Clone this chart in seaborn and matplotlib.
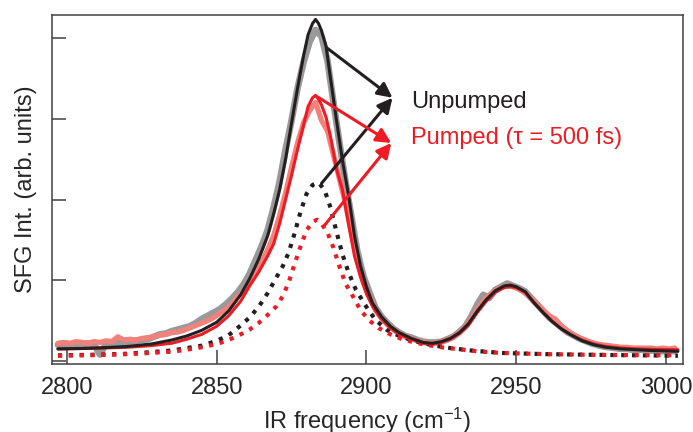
import numpy as np
import pandas as pd
import matplotlib
matplotlib.use("Agg")
import matplotlib.pyplot as plt
import seaborn as sns

# Datos (frecuencia IR en cm^-1, intensidad SFG en u.a.)
freq_datos = np.arange(2797, 3004, 2)

sfg_sin_bomba = [
    0.20, 0.21, 0.20, 0.21, 0.20, 0.22, 0.21, 0.08, 0.21, 0.22,
    0.23, 0.22, 0.24, 0.25, 0.26, 0.27, 0.30, 0.33, 0.34, 0.37,
    0.39, 0.41, 0.43, 0.47, 0.52, 0.56, 0.60, 0.64, 0.70, 0.77,
    0.85, 0.95, 1.08, 1.25, 1.42, 1.62, 1.90, 2.22, 2.62, 2.98,
    3.38, 3.70, 3.95, 4.10, 4.02, 3.72, 3.20, 2.70, 2.22, 1.78,
    1.35, 1.05, 0.85, 0.66, 0.55, 0.47, 0.40, 0.35, 0.31, 0.29,
    0.26, 0.24, 0.23, 0.23, 0.24, 0.27, 0.30, 0.36, 0.43, 0.55,
    0.70, 0.82, 0.78, 0.88, 0.92, 0.96, 0.93, 0.90, 0.86, 0.78,
    0.70, 0.62, 0.54, 0.48, 0.42, 0.36, 0.32, 0.28, 0.25, 0.22,
    0.20, 0.18, 0.17, 0.16, 0.15, 0.15, 0.14, 0.14, 0.14, 0.13,
    0.13, 0.12, 0.13, 0.12,
]

sfg_con_bomba = [
    0.22, 0.23, 0.22, 0.24, 0.23, 0.22, 0.24, 0.23, 0.25, 0.24,
    0.30, 0.26, 0.27, 0.26, 0.28, 0.29, 0.30, 0.32, 0.33, 0.35,
    0.36, 0.38, 0.41, 0.44, 0.47, 0.50, 0.54, 0.59, 0.64, 0.70,
    0.80, 0.86, 0.98, 1.10, 1.22, 1.38, 1.55, 1.80, 2.08, 2.40,
    2.70, 2.95, 3.10, 3.20, 2.98, 2.85, 2.55, 2.25, 1.95, 1.58,
    1.25, 0.98, 0.80, 0.63, 0.53, 0.45, 0.39, 0.34, 0.30, 0.28,
    0.25, 0.23, 0.22, 0.22, 0.24, 0.26, 0.30, 0.35, 0.42, 0.52,
    0.64, 0.74, 0.82, 0.87, 0.91, 0.93, 0.92, 0.89, 0.84, 0.78,
    0.70, 0.63, 0.56, 0.52, 0.44, 0.38, 0.33, 0.29, 0.26, 0.23,
    0.21, 0.20, 0.19, 0.18, 0.17, 0.17, 0.16, 0.16, 0.16, 0.16,
    0.15, 0.16, 0.15, 0.16,
]

# Ajustes (lineas continuas)
freq_ajuste = [
    2797, 2805, 2812, 2820, 2828, 2835, 2840, 2845, 2850, 2854,
    2858, 2861, 2864, 2867, 2869, 2871, 2873, 2875, 2877, 2879,
    2880.5, 2882, 2883, 2884, 2885, 2886.5, 2888, 2890, 2892, 2894,
    2896, 2898, 2900, 2902, 2905, 2908, 2911, 2915, 2919, 2922,
    2925, 2928, 2931, 2934, 2937, 2940, 2943, 2946, 2948, 2950,
    2953, 2956, 2959, 2962, 2965, 2968, 2972, 2976, 2980, 2985,
    2990, 2995, 3004,
]
ajuste_sin_bomba = [
    0.15, 0.155, 0.165, 0.18, 0.21, 0.26, 0.31, 0.38, 0.48, 0.62,
    0.82, 1.02, 1.26, 1.55, 1.82, 2.12, 2.50, 2.95, 3.38, 3.78,
    4.04, 4.18, 4.23, 4.18, 4.09, 3.90, 3.50, 2.98, 2.48, 2.06,
    1.55, 1.18, 0.92, 0.72, 0.55, 0.43, 0.35, 0.28, 0.23, 0.22,
    0.24, 0.28, 0.35, 0.46, 0.62, 0.76, 0.87, 0.93, 0.94, 0.92,
    0.86, 0.72, 0.60, 0.49, 0.40, 0.33, 0.25, 0.20, 0.17, 0.15,
    0.14, 0.13, 0.12,
]
ajuste_con_bomba = [
    0.15, 0.155, 0.16, 0.17, 0.19, 0.22, 0.27, 0.33, 0.43, 0.56,
    0.74, 0.93, 1.10, 1.30, 1.45, 1.70, 2.00, 2.30, 2.62, 2.92,
    3.15, 3.26, 3.29, 3.24, 3.17, 3.02, 2.78, 2.38, 2.12, 1.70,
    1.30, 1.04, 0.83, 0.68, 0.52, 0.41, 0.33, 0.27, 0.22, 0.21,
    0.23, 0.27, 0.34, 0.44, 0.60, 0.74, 0.85, 0.91, 0.92, 0.91,
    0.85, 0.72, 0.60, 0.49, 0.40, 0.33, 0.26, 0.21, 0.18, 0.16,
    0.15, 0.145, 0.14,
]

# Componente principal (lineas punteadas)
freq_comp_negro = [
    2797, 2805, 2812, 2820, 2828, 2835, 2840, 2845, 2850, 2854,
    2858, 2861, 2864, 2867, 2870, 2872, 2874, 2876, 2878, 2880,
    2882, 2884, 2886, 2888, 2890, 2892, 2894, 2896.5, 2900, 2903,
    2907, 2911, 2915, 2919, 2923, 2928, 2935, 2945, 2960, 2980,
    3004,
]
comp_sin_bomba = [
    0.07, 0.075, 0.08, 0.09, 0.11, 0.13, 0.16, 0.19, 0.25, 0.32,
    0.44, 0.54, 0.67, 0.84, 1.04, 1.17, 1.34, 1.58, 1.85, 2.07,
    2.18, 2.21, 2.12, 1.90, 1.60, 1.32, 1.10, 0.88, 0.67, 0.51,
    0.38, 0.31, 0.26, 0.22, 0.19, 0.16, 0.13, 0.10, 0.085, 0.075,
    0.065,
]
freq_comp_rojo = [
    2797, 2805, 2812, 2820, 2828, 2835, 2840, 2845, 2850, 2854,
    2858, 2861, 2864, 2867, 2870, 2872, 2874, 2876, 2878, 2880,
    2882, 2883.5, 2885, 2887, 2889, 2891, 2893, 2895.5, 2898, 2901,
    2904, 2908, 2912, 2916, 2920, 2925, 2930, 2937, 2945, 2960,
    2980, 3004,
]
comp_con_bomba = [
    0.065, 0.07, 0.075, 0.085, 0.10, 0.115, 0.14, 0.17, 0.21, 0.26,
    0.33, 0.39, 0.47, 0.57, 0.68, 0.80, 0.97, 1.20, 1.42, 1.62,
    1.72, 1.75, 1.70, 1.59, 1.40, 1.17, 0.96, 0.80, 0.63, 0.50,
    0.41, 0.33, 0.27, 0.23, 0.20, 0.17, 0.15, 0.12, 0.10, 0.085,
    0.075, 0.07,
]

NEGRO = "#231f20"
ROJO = "#ed1c24"
GRIS = "#999999"
ROJO_CLARO = "#f3817b"
EJES = "#404040"

sns.set_style("ticks")
plt.rcParams["font.family"] = ["Liberation Sans", "DejaVu Sans"]
plt.rcParams["mathtext.fontset"] = "custom"
plt.rcParams["mathtext.rm"] = "Liberation Sans"
plt.rcParams["mathtext.it"] = "Liberation Sans:italic"

fig = plt.figure(figsize=(6.93, 4.32), dpi=100)
ax = fig.add_axes([0.075, 0.1574, 0.9106, 0.8079])

df_datos = pd.DataFrame({"freq": freq_datos, "sin": sfg_sin_bomba, "con": sfg_con_bomba})
sns.lineplot(data=df_datos, x="freq", y="sin", ax=ax, color=GRIS, lw=4.8,
             sort=False, estimator=None)
sns.lineplot(data=df_datos, x="freq", y="con", ax=ax, color=ROJO_CLARO, lw=3.8,
             sort=False, estimator=None)

punteado = (0, (1, 1.6))
sns.lineplot(x=freq_comp_negro, y=comp_sin_bomba, ax=ax, color=NEGRO, lw=3.0,
             linestyle=punteado, dash_capstyle="butt", sort=False, estimator=None)
sns.lineplot(x=freq_comp_rojo, y=comp_con_bomba, ax=ax, color=ROJO, lw=3.0,
             linestyle=punteado, dash_capstyle="butt", sort=False, estimator=None)

sns.lineplot(x=freq_ajuste, y=ajuste_con_bomba, ax=ax, color=ROJO, lw=2.2,
             sort=False, estimator=None)
sns.lineplot(x=freq_ajuste, y=ajuste_sin_bomba, ax=ax, color=NEGRO, lw=2.2,
             sort=False, estimator=None)

# Flechas hacia las etiquetas
flecha = dict(arrowstyle="-|>", lw=2.2, mutation_scale=22, shrinkA=0, shrinkB=0)
ax.annotate("", xy=(2908.7, 3.26), xytext=(2886.7, 3.88),
            arrowprops=dict(flecha, color=NEGRO))
ax.annotate("", xy=(2908.7, 3.26), xytext=(2885.0, 2.20),
            arrowprops=dict(flecha, color=NEGRO))
ax.annotate("", xy=(2908.3, 2.70), xytext=(2883.7, 3.27),
            arrowprops=dict(flecha, color=ROJO))
ax.annotate("", xy=(2908.3, 2.70), xytext=(2886.0, 1.68),
            arrowprops=dict(flecha, color=ROJO))

ax.text(2915, 3.21, "Unpumped", color=NEGRO, fontsize=17, va="center", ha="left")
ax.text(2915, 2.76, "Pumped (τ = 500 fs)", color=ROJO, fontsize=17,
        va="center", ha="left")

ax.set_xlim(2795, 3005.7)
ax.set_ylim(-0.037, 4.285)
ax.set_xticks([2800, 2850, 2900, 2950, 3000])
ax.set_yticks([0, 1, 2, 3, 4])
ax.set_yticklabels([])
ax.tick_params(direction="in", length=10, width=1.1, color=EJES,
               labelsize=17, pad=9)

for lado in ["top", "right", "left", "bottom"]:
    ax.spines[lado].set_visible(True)
    ax.spines[lado].set_color(EJES)
    ax.spines[lado].set_linewidth(1.1)

ax.set_xlabel(r"IR frequency (cm$^{\mathrm{-1}}$)", fontsize=17, labelpad=5)
ax.set_ylabel("SFG Int. (arb. units)", fontsize=17, labelpad=2)

fig.savefig("out.png", dpi=100)
